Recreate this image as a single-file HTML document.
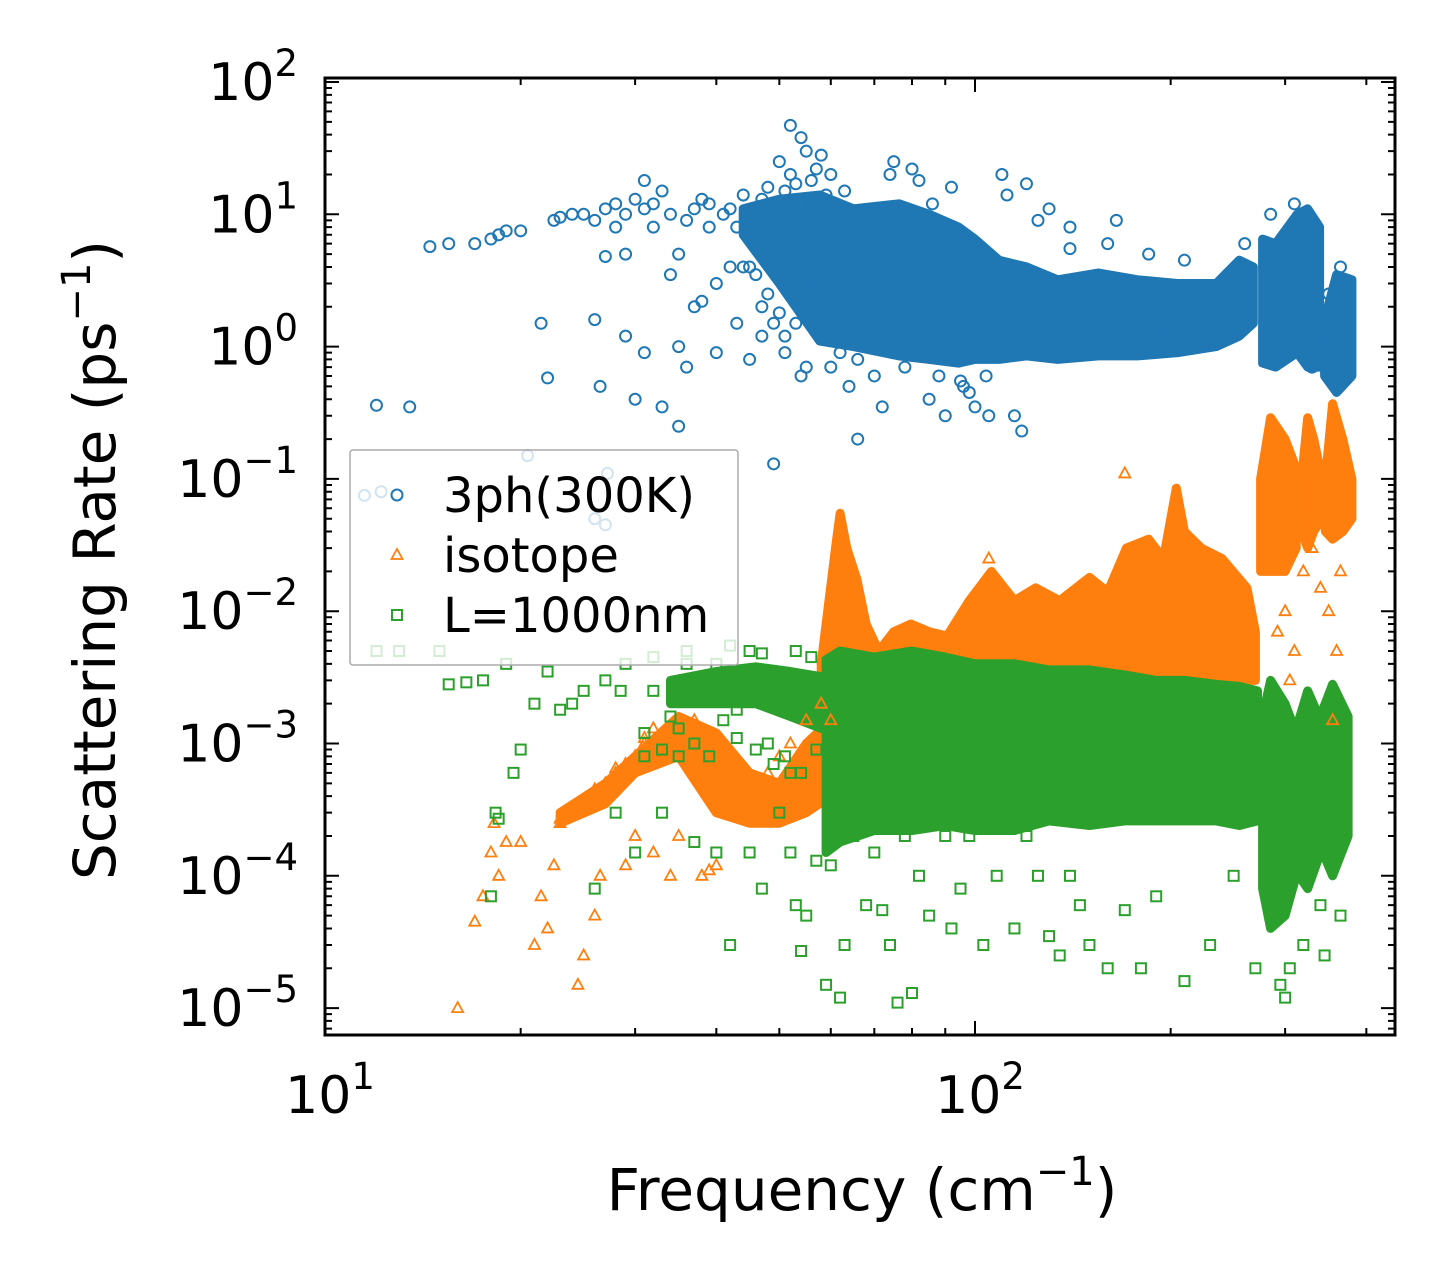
<!DOCTYPE html>
<html><head><meta charset="utf-8"><style>
html,body{margin:0;padding:0;background:#fff;}
svg{display:block;font-family:"DejaVu Sans","Liberation Sans",sans-serif;}
</style></head><body>
<svg id="chart" width="1455" height="1285" viewBox="0 0 1455 1285" xmlns="http://www.w3.org/2000/svg">
<g id="bands"></g>
<g id="marks"></g>
<g id="axes"></g>
<g id="legend"></g>
</svg>
<script>
// ---- data ----
const blueX=[12,13.5,14.5,15.5,17,18,18.5,19,20,21.5,22,22.5,23,24,25,26,26.5,27,28,29,29,30,31,31,32,33,33,34,35,35,35,36,37,38,38,39,40,40,42,42,43,44,45,45,47,48,48,49,50,51,52,52,53,54,55,55,56,57,58,58,60,62,64,66,68,72,75,80,85,90,95,100,105,110,115,118,120,130,140,165,170,190,200,210,230,260,285,300,310,330,340,350,360,365,26,27,28,29,30,31,32,34,36,37,39,41,43,46,47,50,51,53,54,56,57,59,44,46,48,50,53,55,57,59,47,49,51,54,56,58,11.5,12.2,27.2,27,20.5,26,70,78,88,96,104,60,66,82,92,112,125,140,160,185,63,74,86,98];
const blueY=[0.36,0.35,5.7,6,6,6.5,7,7.5,7.5,1.5,0.58,9,9.5,10,10,1.6,0.5,4.8,12,5,1.2,0.4,18,0.9,8,15,0.35,3.5,5,0.25,1,0.7,2,2.2,13,8,3,0.9,4,11,1.5,14,0.8,4,2,9,16,0.13,25,1.2,20,47,8,38,30,0.7,12,5,28,3,20,0.9,0.5,0.2,7,0.35,25,22,0.4,0.3,0.55,0.35,0.3,20,0.3,0.23,17,11,5.5,9,1,1.3,2,4.5,1.1,6,10,1.8,12,0.7,1.2,2.5,0.7,4,9,11,8,10,13,11,12,10,9,11,12,10,8,11,13,10,15,17,12,18,22,14,4,3.5,2.5,1.8,1.5,2.5,3,4,1.2,1.5,0.9,0.6,1.5,6,0.075,0.08,0.11,0.045,0.15,0.05,0.6,0.7,0.6,0.5,0.6,0.7,0.8,18,16,14,9,8,6,5,15,20,12,0.45];
const orangeX=[16,17,17.5,18,18.2,18.5,19,20,21,21.5,22,22.5,23,24,24.5,25,25.5,26,26.5,27,28,29,30,30,31,32,33,34,35,36,37,38,39,40,42,44,46,48,50,52,55,58,60,23,25,26,28,29,31,32,170,105,300,310,320,330,340,350,360,365,292,305,355];
const orangeY=[1e-5,4.5e-5,7e-5,1.5e-4,2.5e-4,1e-4,1.8e-4,1.8e-4,3e-5,7e-5,4e-5,1.2e-4,2.5e-4,3e-4,1.5e-5,2.5e-5,4e-4,5e-5,1e-4,5e-4,6e-4,1.2e-4,8e-4,2e-4,1e-3,1.5e-4,1.2e-3,1e-4,2e-4,1e-3,1.5e-3,1e-4,1.1e-4,1.2e-4,7e-4,4e-4,3e-4,6e-4,8e-4,1e-3,1.5e-3,2e-3,1.5e-3,2.7e-4,3.5e-4,4.5e-4,6.5e-4,7e-4,1.1e-3,1.3e-3,0.11,0.025,0.01,0.005,0.02,0.03,0.015,0.01,0.005,0.02,0.007,0.003,0.0015];
const greenX=[12,13,15,15.5,16.5,17.5,18,18.5,18.3,19,19.5,20,21,22,23,24,25,26,27,28,28.5,29,30,31,32,33,34,35,36,37,38,40,42,43,45,47,50,52,53,54,55,57,59,60,62,63,65,68,70,72,74,76,78,80,82,85,90,92,95,98,103,108,115,120,125,130,135,140,145,150,160,170,180,190,210,230,250,270,285,295,300,305,320,340,345,365,60,40,45,50,55,48,52,44,31,33,35,37,39,41,43,46,49,51,54,57,32,36,42,47,53,56];
const greenY=[5e-3,5e-3,5e-3,2.8e-3,2.9e-3,3e-3,7e-5,2.7e-4,3e-4,4e-3,6e-4,9e-4,2e-3,3.5e-3,1.8e-3,2e-3,2.5e-3,8e-5,3e-3,3e-4,2.5e-3,4e-3,1.5e-4,8e-4,2.5e-3,3e-4,1.6e-3,8e-4,4e-3,1.8e-4,2.2e-3,1.5e-4,3e-5,1.8e-3,1.5e-4,8e-5,3e-4,1.5e-4,6e-5,2.7e-5,5e-5,1.3e-4,1.5e-5,1.2e-4,1.2e-5,3e-5,2e-4,6e-5,1.5e-4,5.5e-5,3e-5,1.1e-5,2e-4,1.3e-5,1e-4,5e-5,2e-4,4e-5,8e-5,2e-4,3e-5,1e-4,4e-5,2e-4,1e-4,3.5e-5,2.5e-5,1e-4,6e-5,3e-5,2e-5,5.5e-5,2e-5,7e-5,1.6e-5,3e-5,1e-4,2e-5,5e-5,1.5e-5,1.2e-5,2e-5,3e-5,6e-5,2.5e-5,5e-5,4e-3,4e-3,5e-3,3e-3,2e-3,1e-3,6e-4,3.5e-3,1.2e-3,9e-4,1.3e-3,1e-3,8e-4,1.5e-3,1.1e-3,9e-4,7e-4,8e-4,6e-4,9e-4,4.5e-3,5e-3,5.5e-3,4.8e-3,5e-3,4.5e-3];
// dense bands (null = break)
const blueBandX=[44,50,57.7,65,76.4,85,94.4,100,108.9,120,134,155,178,205,235,255,268,null,277,290,313,325,339,null,345,360,380];
const blueBandLo=[7,3,1.1,1.0,0.85,0.8,0.75,0.8,0.8,0.85,0.8,0.85,0.85,0.9,1.0,1.2,1.5,null,0.75,0.7,0.9,0.7,0.7,null,0.6,0.45,0.6];
const blueBandHi=[11,13,14,11,12,10,8,6.5,4.5,4,3.2,3.6,3.2,3.0,3.0,4.5,4.0,null,6.5,6,10,11,8,null,1.6,3.5,3.2];
const orangeBandX=[23,27,30,35,40,45,50,55,60,null,58,61,62,63.5,65.8,68,71.1,75,79.7,85,90.6,98,106,115,124,135,150,160,171,185,195,204,210,223,240,262,270,null,275,285,300,312,null,318,325,332,342,null,346,355,368,380];
const orangeBandLo=[2.5e-4,3.5e-4,6e-4,8e-4,3e-4,2.5e-4,2.5e-4,3e-4,4e-4,null,1e-3,2e-3,3e-3,3e-3,3e-3,3e-3,3e-3,3e-3,3e-3,3e-3,3e-3,3e-3,3e-3,3e-3,3e-3,3e-3,3e-3,3e-3,3e-3,3e-3,3e-3,3e-3,3e-3,3e-3,3e-3,3e-3,3e-3,null,0.02,0.02,0.02,0.03,null,0.04,0.03,0.04,0.05,null,0.04,0.035,0.04,0.05];
const orangeBandHi=[3e-4,5e-4,8e-4,1.6e-3,1.2e-3,6e-4,5e-4,1e-3,1.5e-3,null,0.004,0.03,0.055,0.03,0.0175,0.008,0.005,0.007,0.008,0.007,0.0065,0.012,0.02,0.012,0.015,0.012,0.018,0.014,0.03,0.035,0.025,0.085,0.04,0.03,0.025,0.015,0.007,null,0.1,0.29,0.2,0.12,null,0.1,0.29,0.2,0.1,null,0.1,0.37,0.2,0.1];
const greenBandX=[34,40,46,52,58,null,59,62,70,80,90,100,115,130,150,170,190,210,235,255,272,null,277,285,300,312,null,315,325,340,null,343,355,375];
const greenBandLo=[2e-3,2e-3,2e-3,1.6e-3,1.3e-3,null,1.5e-4,1.8e-4,2.2e-4,2.2e-4,2.4e-4,2.2e-4,2.2e-4,2.6e-4,2.4e-4,2.6e-4,2.6e-4,2.6e-4,2.6e-4,2.4e-4,2.6e-4,null,8e-5,4e-5,5e-5,1e-4,null,1e-4,8e-5,1.5e-4,null,1.5e-4,1e-4,2e-4];
const greenBandHi=[3e-3,3.5e-3,3.8e-3,3.5e-3,3.2e-3,null,4.3e-3,5e-3,4.5e-3,5e-3,4.5e-3,4e-3,4e-3,3.6e-3,3.6e-3,3.3e-3,3e-3,3e-3,2.8e-3,2.7e-3,2.5e-3,null,1.6e-3,3e-3,2e-3,1.2e-3,null,1.5e-3,2.5e-3,1.5e-3,null,1.8e-3,2.8e-3,1.6e-3];
const yTickExp=[2,1,0,-1,-2,-3,-4,-5];
const xTickExp=[1,2];

// ---- axes ----
const L=325,R=1395,T=78,B=1035;
const X=f=>L+650*(Math.log10(f)-1);
const Y=r=>82+132.3*(2-Math.log10(r));
const NS='http://www.w3.org/2000/svg';
function mk(tag,attrs,parent){const e=document.createElementNS(NS,tag);for(const k in attrs)e.setAttribute(k,attrs[k]);parent.appendChild(e);return e;}
const C={blue:'#1f77b4',orange:'#ff7f0e',green:'#2ca02c'};

function band(xs,lo,hi,col,name){
  const g=document.getElementById('bands');
  let segs=[],cur=[];
  xs.forEach((x,i)=>{if(x===null){segs.push(cur);cur=[];}else cur.push(i);});
  segs.push(cur);
  segs.forEach((s,k)=>{
    let d='M'+s.map(i=>X(xs[i]).toFixed(1)+','+Y(hi[i]).toFixed(1)).join('L');
    d+='L'+s.slice().reverse().map(i=>X(xs[i]).toFixed(1)+','+Y(lo[i]).toFixed(1)).join('L')+'Z';
    const p=mk('path',{d:d,fill:col,stroke:col,'stroke-width':9,'stroke-linejoin':'round'},g);
    
    
  });
}
band(blueBandX,blueBandLo,blueBandHi,C.blue,'3ph');
band(orangeBandX,orangeBandLo,orangeBandHi,C.orange,'isotope');
band(greenBandX,greenBandLo,greenBandHi,C.green,'boundary');

function marker(type,x,y,col,parent){
  let e;
  if(type==='o')e=mk('circle',{cx:x,cy:y,r:5.5,fill:'none',stroke:col,'stroke-width':2},parent);
  else if(type==='^')e=mk('path',{d:`M${x},${y-6}L${x+5.5},${y+4}L${x-5.5},${y+4}Z`,fill:'none',stroke:col,'stroke-width':1.8},parent);
  else e=mk('rect',{x:x-5,y:y-5,width:10,height:10,fill:'none',stroke:col,'stroke-width':2},parent);
  return e;
}
const mg=document.getElementById('marks');
blueX.forEach((f,i)=>{const e=marker('o',X(f),Y(blueY[i]),C.blue,mg);

});
orangeX.forEach((f,i)=>{const e=marker('^',X(f),Y(orangeY[i]),C.orange,mg);

});
greenX.forEach((f,i)=>{const e=marker('s',X(f),Y(greenY[i]),C.green,mg);

});

const ax=document.getElementById('axes');
let td='';
for(let e=-6;e<=2;e++){for(let m=1;m<10;m++){const v=m*Math.pow(10,e);const y=Y(v);if(y<T-1||y>B+1)continue;const len=m===1?14:7;td+=`M${L},${y}h${len}M${R},${y}h${-len}`;}}
for(let e=1;e<=2;e++){for(let m=1;m<10;m++){const v=m*Math.pow(10,e);const x=X(v);if(x<L-1||x>R+1)continue;const len=m===1?14:7;td+=`M${x},${B}v${-len}M${x},${T}v${len}`;}}
const tk=mk('path',{d:td,stroke:'#000','stroke-width':2,fill:'none'},ax);


const fr=mk('rect',{x:L,y:T,width:R-L,height:B-T,fill:'none',stroke:'#000','stroke-width':3},ax);


yTickExp.forEach(e=>{
  const t=mk('text',{x:298,y:Y(Math.pow(10,e))+18,'text-anchor':'end','font-size':52},ax);
  t.innerHTML='10<tspan dy="-24" font-size="37">'+(e<0?'\u2212'+(-e):e)+'</tspan>';
  
  
});
xTickExp.forEach(e=>{
  const t=mk('text',{x:X(Math.pow(10,e))+5,y:1113,'text-anchor':'middle','font-size':52},ax);
  t.innerHTML='10<tspan dy="-24" font-size="37">'+e+'</tspan>';
  
  
});
const xl=mk('text',{x:862,y:1210,'text-anchor':'middle','font-size':58},ax);
xl.innerHTML='Frequency (cm<tspan dy="-25" font-size="40">\u22121</tspan><tspan dy="25">)</tspan>';


const yl=mk('text',{x:0,y:0,'text-anchor':'middle','font-size':58,transform:'translate(115,560) rotate(-90)'},ax);
yl.innerHTML='Scattering Rate (ps<tspan dy="-25" font-size="40">\u22121</tspan><tspan dy="25">)</tspan>';



// legend
const lg=document.getElementById('legend');
const lb=mk('rect',{x:350,y:450,width:388,height:215,fill:'#fff','fill-opacity':0.8,stroke:'#aaa','stroke-width':1.5,rx:3},lg);


const entries=[['o',C.blue,'3ph(300K)',495],['^',C.orange,'isotope',555],['s',C.green,'L=1000nm',615]];
entries.forEach(([t,c,label,y])=>{
  const g=mk('g',{},lg);
  
  
  marker(t,397,y,c,g);
  const tx=mk('text',{x:443,y:y+17,'font-size':48},g);
  tx.textContent=label;
});
</script>
</body></html>
